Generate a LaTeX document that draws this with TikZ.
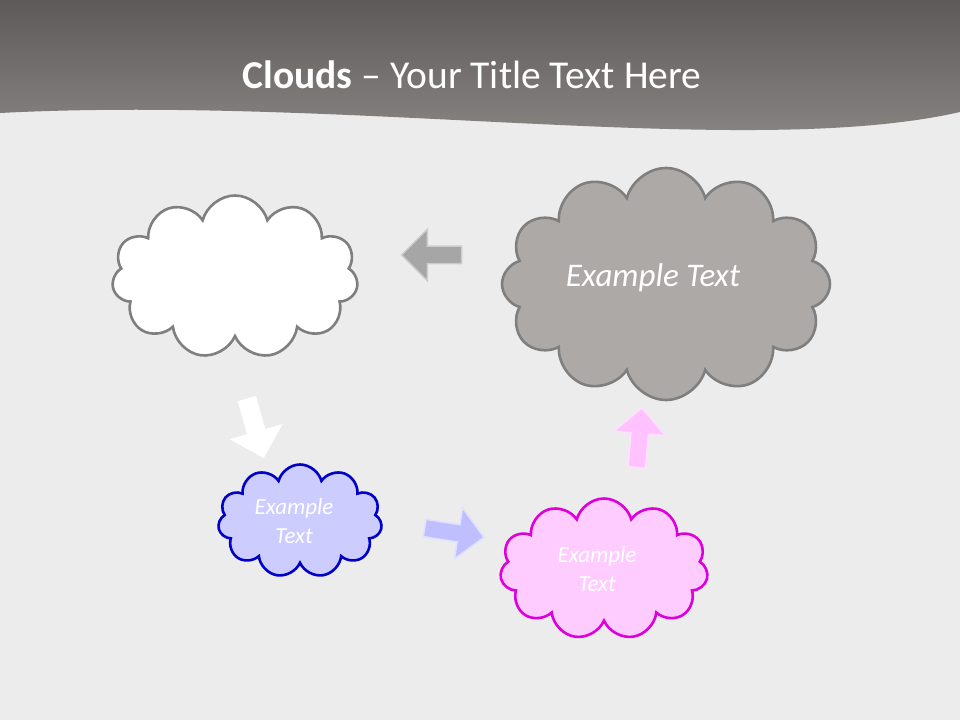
\documentclass[tikz,border=0pt]{standalone}
\usepackage{fontspec}
\setmainfont{Carlito}
\usepackage{xcolor}
\definecolor{paper}{HTML}{ECECEC}
\definecolor{hdrtop}{HTML}{5E5A59}
\definecolor{hdrbot}{HTML}{8F8B89}
\definecolor{edge}{HTML}{7F7F7F}
\definecolor{stone}{HTML}{ADA9A7}
\definecolor{lilac}{HTML}{CCCCFF}
\definecolor{navy}{HTML}{0000C8}
\definecolor{rose}{HTML}{FFCCFF}
\definecolor{plum}{HTML}{DD00DD}
\usepackage{tikz}
\usetikzlibrary{positioning,shapes.symbols,shapes.arrows}

\begin{document}
\begin{tikzpicture}[
  x=1pt,y=1pt,
  cl/.style={cloud,cloud puffs=11,cloud ignores aspect,line width=2.6pt,inner sep=0pt,
    align=center,text=white},
  small/.style={font=\fontsize{23}{29}\selectfont\itshape},
  blk/.style={single arrow,inner sep=8pt,minimum height=60pt,minimum width=0pt,
    single arrow head extend=17pt,line width=1.5pt}
]
\useasboundingbox (0,0) rectangle (960,720);
\fill[paper] (0,0) rectangle (960,720);
% header band with wavy lower edge
\shade[top color=hdrtop,bottom color=hdrbot]
  (0,720) -- (960,720) -- (960,608) .. controls (750,560) and (350,625) .. (0,607) -- cycle;
\node[text=white,font=\fontsize{39.5}{44}\selectfont] (title) at (472,645)
  {\textbf{Clouds} – Your Title Text Here};

% clouds
\node[cl,draw=edge,fill=white,minimum width=246pt,minimum height=163pt] (wc) at (235,443) {};
\node[cl,draw=edge,fill=stone,cloud puffs=12,minimum width=328pt,minimum height=232pt,
  font=\fontsize{33}{38}\selectfont\itshape] (gc) at (666,436)
  {\raisebox{6pt}[\height][\depth]{Example Text}\hspace*{26pt}};
\node[cl,small,draw=navy,fill=lilac,minimum width=164pt,minimum height=113pt] (bc) at (300,199)
  {Example\hspace*{12pt}\\Text\hspace*{12pt}};
\node[cl,small,draw=plum,fill=rose,minimum width=208pt,minimum height=141pt] (pc) at (604,151)
  {Example\hspace*{14pt}\\Text\hspace*{14pt}};

% block arrows
\node[blk,fill=black!35,draw=black!20,rotate=180] (ag) at (436,465) {};
\node[blk,fill=white,draw=white,rotate=-74] (aw) at (254,296) {};
\node[blk,fill=lilac!90!blue!90,draw=lilac!60,rotate=-9] (ab) at (450,188) {};
\node[blk,fill=rose!95!magenta,draw=rose!60,rotate=85] (ap) at (639,278) {};
\end{tikzpicture}
\end{document}
